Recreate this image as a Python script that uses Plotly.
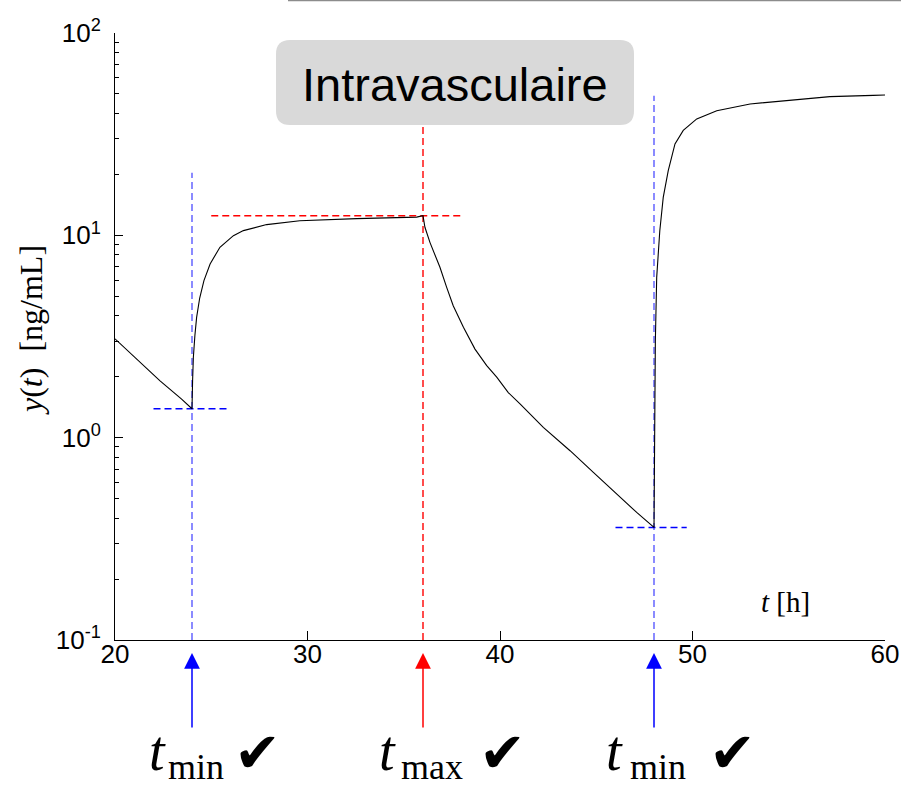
import plotly.graph_objects as go

# Concentration profile (two infusions) on a log scale
t_hours = [20, 21.12, 22.34, 23.46, 24.0, 24.03, 24.07, 24.15, 24.24, 24.4, 24.62, 24.94,
           25.45, 26.15, 26.67, 27.88, 29.6, 32.55, 35.67, 36.0, 36.10, 36.36, 36.53,
           36.88, 37.23, 37.57, 38.10, 38.70, 39.31, 39.83, 40.43, 41.04, 42.25, 43.64,
           44.85, 46.06, 47.10, 48.0, 48.03, 48.07, 48.14, 48.3, 48.48, 48.74, 49.09,
           49.52, 50.22, 51.26, 52.99, 55.58, 57.14, 59.39, 60]
y_conc = [3.08, 2.45, 1.91, 1.55, 1.39, 1.9, 2.49, 3.2, 3.93, 4.9, 5.97, 7.22,
          8.73, 9.96, 10.55, 11.3, 11.8, 12.1, 12.3, 12.5, 10.96, 9.23, 8.4,
          6.95, 5.53, 4.49, 3.51, 2.74, 2.27, 1.99, 1.67, 1.47, 1.125, 0.862,
          0.674, 0.527, 0.427, 0.36, 1.2, 3.0, 6.2, 10.5, 15.4, 20.9, 28.3,
          33.0, 37.6, 41.3, 44.6, 47.2, 48.5, 49.2, 49.4]

# Trough / peak markers
tmin_times = [24, 48]
tmin_levels = [1.39, 0.36]
tmin_hspan = [(22, 26), (46, 49.7)]
tmin_vtop = [20.4, 49]
tmax_time = 36
tmax_level = 12.5
tmax_hspan = (25, 38)
tmax_vtop = 35

x_ticks = [20, 30, 40, 50, 60]
y_ticks = [0.1, 1, 10, 100]
y_ticktext = ["10<sup>-1</sup>", "10<sup>0</sup>", "10<sup>1</sup>", "10<sup>2</sup>"]
y_minor = [m * 10 ** e for e in (-1, 0, 1) for m in range(2, 10)]

W, H = 901, 788
L, R, T, B = 115, 885, 33, 640


def px(xp):
    return (xp - L) / (R - L)


def py(yp):
    return (B - yp) / (B - T)


fig = go.Figure()

vblue = "rgb(90,90,255)"
hblue = "rgb(0,0,255)"
red = "rgb(255,0,0)"
dash = "7px,4px"

for tm, lv, (h0, h1), vt in zip(tmin_times, tmin_levels, tmin_hspan, tmin_vtop):
    fig.add_trace(go.Scatter(x=[tm, tm], y=[0.1, vt], mode="lines",
                             line=dict(color=vblue, width=1.4, dash=dash),
                             hoverinfo="skip", showlegend=False))
    fig.add_trace(go.Scatter(x=[h0, h1], y=[lv, lv], mode="lines",
                             line=dict(color=hblue, width=1.4, dash=dash),
                             hoverinfo="skip", showlegend=False))

fig.add_trace(go.Scatter(x=[tmax_time, tmax_time], y=[0.1, tmax_vtop], mode="lines",
                         line=dict(color=red, width=1.4, dash=dash),
                         hoverinfo="skip", showlegend=False))
fig.add_trace(go.Scatter(x=list(tmax_hspan), y=[tmax_level, tmax_level], mode="lines",
                         line=dict(color=red, width=1.4, dash=dash),
                         hoverinfo="skip", showlegend=False))

fig.add_trace(go.Scatter(x=t_hours, y=y_conc, mode="lines",
                         line=dict(color="black", width=1.1),
                         showlegend=False))

tick_font = dict(family="Liberation Sans, Arial", size=26, color="black")

fig.update_layout(
    width=W, height=H,
    margin=dict(l=L, r=W - R, t=T, b=H - B, autoexpand=False),
    paper_bgcolor="white", plot_bgcolor="white",
    xaxis=dict(range=[20, 60], tickvals=x_ticks, ticks="inside", ticklen=9,
               tickcolor="black", showline=True, linecolor="black", linewidth=1,
               showgrid=False, zeroline=False, tickfont=tick_font,
               automargin=False, ticklabelstandoff=-9),
    yaxis=dict(type="log", range=[-1, 2], tickvals=y_ticks, ticktext=y_ticktext,
               ticks="inside", ticklen=8, tickcolor="black", showline=True,
               linecolor="black", linewidth=1, showgrid=False, zeroline=False,
               tickfont=tick_font, automargin=False, ticklabelstandoff=8,
               minor=dict(tickvals=y_minor, ticks="inside", ticklen=4,
                          tickcolor="black", showgrid=False)),
)

# Frame edge at the very top
fig.add_shape(type="line", xref="paper", yref="paper",
              x0=px(288), x1=px(901), y0=py(0.5), y1=py(0.5),
              line=dict(color="rgb(140,140,140)", width=1.5))

# Rounded title box
bx0, bx1, by0, by1, r = 276, 634, 40, 125, 14
path = (f"M {px(bx0 + r)},{py(by0)} L {px(bx1 - r)},{py(by0)} "
        f"Q {px(bx1)},{py(by0)} {px(bx1)},{py(by0 + r)} "
        f"L {px(bx1)},{py(by1 - r)} Q {px(bx1)},{py(by1)} {px(bx1 - r)},{py(by1)} "
        f"L {px(bx0 + r)},{py(by1)} Q {px(bx0)},{py(by1)} {px(bx0)},{py(by1 - r)} "
        f"L {px(bx0)},{py(by0 + r)} Q {px(bx0)},{py(by0)} {px(bx0 + r)},{py(by0)} Z")
fig.add_shape(type="path", xref="paper", yref="paper", path=path,
              fillcolor="rgb(217,217,217)", line=dict(width=0), layer="above")

fig.add_annotation(xref="paper", yref="paper", x=px(455), y=py(84),
                   text="Intravasculaire", showarrow=False,
                   font=dict(family="Liberation Sans, Arial", size=47, color="black"),
                   xanchor="center", yanchor="middle")

# Axis titles
fig.add_annotation(xref="paper", yref="paper", x=px(31), y=py(330),
                   text="<i>y</i>(<i>t</i>)  [ng/mL]", textangle=-90, showarrow=False,
                   font=dict(family="Liberation Serif, Times New Roman", size=32, color="black"),
                   xanchor="center", yanchor="middle")
fig.add_annotation(xref="paper", yref="paper", x=px(785), y=py(602),
                   text="<i>t</i> [h]", showarrow=False,
                   font=dict(family="Liberation Serif, Times New Roman", size=29, color="black"),
                   xanchor="center", yanchor="middle")

# Arrows under the time axis
arrow_times = [tmin_times[0], tmax_time, tmin_times[1]]
arrow_colors = ["blue", "red", "blue"]
for at, ac in zip(arrow_times, arrow_colors):
    fig.add_annotation(x=at, xref="x", yref="paper", y=py(653), text="",
                       showarrow=True, arrowhead=2, arrowsize=2.1, arrowwidth=1.5,
                       arrowcolor=ac, ax=0, ay=76, standoff=0)

# t_min / t_max labels with check marks
labels = [("min", 147, 166, 257), ("max", 377, 399, 503), ("min", 604, 628, 732)]
serif = "Liberation Serif, Times New Roman"
for sub, tx, sx, cx in labels:
    fig.add_annotation(xref="paper", yref="paper", x=px(tx), y=py(751), text="<i>t</i>",
                       showarrow=False, xanchor="left", yanchor="middle",
                       font=dict(family=serif, size=56, color="black"))
    fig.add_annotation(xref="paper", yref="paper", x=px(sx), y=py(767), text=sub,
                       showarrow=False, xanchor="left", yanchor="middle",
                       font=dict(family=serif, size=36, color="black"))
    fig.add_annotation(xref="paper", yref="paper", x=px(cx), y=py(752), text="✔",
                       showarrow=False, xanchor="center", yanchor="middle",
                       font=dict(family="DejaVu Sans", size=56, color="black"))

fig.write_html("out.html")
